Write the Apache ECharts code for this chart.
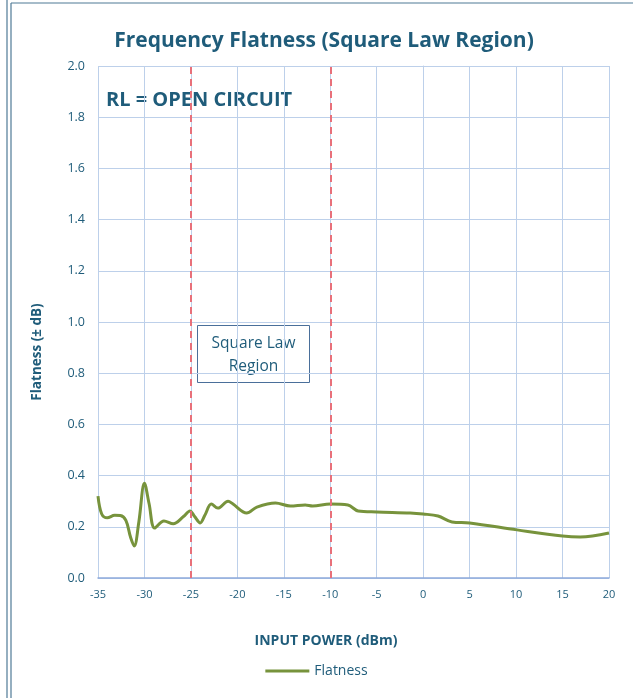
<!DOCTYPE html>
<html><head><meta charset="utf-8">
<script src="https://cdn.jsdelivr.net/npm/echarts@6/dist/echarts.min.js"></script>
<style>html,body{margin:0;padding:0;background:#fff}#c{width:633px;height:698px}</style>
</head><body><div id="c"></div>
<script>
const powerDbm = [-35,-34.6,-34,-33.2,-32.6,-32,-31.5,-31.1,-30.6,-30,-29.5,-28.9,-27.9,-26.9,-25.8,-25.1,-24.6,-24,-23.5,-22.8,-22.1,-21,-20.5,-19,-17.9,-15.9,-14.3,-12.7,-11.9,-10,-8.1,-7,-5,-1.4,0,1.6,3.1,5,10.1,15,16.9,20];
const flatness = [0.32,0.25,0.235,0.245,0.244,0.225,0.16,0.125,0.22,0.37,0.29,0.195,0.223,0.212,0.24,0.262,0.24,0.215,0.245,0.289,0.273,0.30,0.29,0.254,0.277,0.293,0.281,0.285,0.281,0.289,0.285,0.262,0.258,0.254,0.25,0.242,0.219,0.215,0.188,0.164,0.16,0.176];
const regionBounds = [-25, -10];
const xTicks = {min: -35, max: 20, interval: 5};
const yTicks = {min: 0, max: 2, interval: 0.2};

const txt = '#1F5C7A';
const font = '"Open Sans", "Noto Sans", sans-serif';
const chart = echarts.init(document.getElementById('c'));
chart.setOption({
  animation: false,
  title: {text: 'Frequency Flatness (Square Law Region)', left: 319, textAlign: 'center', top: 26,
    textStyle: {color: txt, fontSize: 21, fontWeight: 'bold', fontFamily: font}},
  legend: {top: 659, left: 'center', itemWidth: 44, itemHeight: 3, icon: 'rect', itemGap: 5,
    textStyle: {color: txt, fontSize: 14, fontFamily: font}, data: ['Flatness']},
  grid: {left: 98, right: 24, top: 66, bottom: 120},
  xAxis: {type: 'value', min: xTicks.min, max: xTicks.max, interval: xTicks.interval,
    axisLine: {lineStyle: {color: '#8EAADB', width: 1.5}}, axisTick: {show: false},
    axisLabel: {color: txt, fontSize: 11, fontFamily: font, margin: 11},
    splitLine: {show: true, lineStyle: {color: '#BDD0EA', width: 1}}},
  yAxis: {type: 'value', min: yTicks.min, max: yTicks.max, interval: yTicks.interval,
    axisLine: {show: true, lineStyle: {color: '#BDD0EA', width: 1}}, axisTick: {show: false},
    axisLabel: {color: txt, fontSize: 12.5, fontFamily: font, margin: 13, formatter: v => v.toFixed(1)},
    splitLine: {show: true, lineStyle: {color: '#BDD0EA', width: 1}}},
  series: [{
    name: 'Flatness', type: 'line', smooth: 0.35, symbol: 'none',
    data: powerDbm.map((x, i) => [x, flatness[i]]),
    lineStyle: {color: '#77933C', width: 3}, itemStyle: {color: '#77933C'},
    markLine: {silent: true, symbol: 'none', label: {show: false},
      lineStyle: {color: '#E8707A', type: [7, 5], width: 2},
      data: regionBounds.map(v => ({xAxis: v}))}
  }],
  graphic: [
    {type: 'line', shape: {x1: 7, y1: 0, x2: 7, y2: 698}, style: {stroke: '#4F7A96', lineWidth: 1.2}},
    {type: 'line', shape: {x1: 11, y1: 3, x2: 11, y2: 698}, style: {stroke: '#4F7A96', lineWidth: 1.2}},
    {type: 'line', shape: {x1: 11, y1: 3, x2: 633, y2: 3}, style: {stroke: '#4F7A96', lineWidth: 1.2}},
    {type: 'text', x: 106, y: 100, style: {text: 'RL = OPEN CIRCUIT', fill: txt, fontSize: 20, fontWeight: 'bold', fontFamily: font, verticalAlign: 'middle'}},
    {type: 'text', x: 326, y: 641, style: {text: 'INPUT POWER (dBm)', fill: txt, fontSize: 14, fontWeight: 'bold', fontFamily: font, align: 'center', verticalAlign: 'middle'}},
    {type: 'text', x: 37, y: 352, rotation: Math.PI / 2, style: {text: 'Flatness (± dB)', fill: txt, fontSize: 13.5, fontWeight: 'bold', fontFamily: font, align: 'center', verticalAlign: 'middle'}},
    {type: 'rect', shape: {x: 197.5, y: 325.5, width: 112, height: 57}, style: {fill: '#fff', stroke: '#4A6F9A', lineWidth: 1}},
    {type: 'text', x: 253.5, y: 355, style: {text: 'Square Law\nRegion', fill: txt, fontSize: 15.5, lineHeight: 23, fontFamily: font, align: 'center', verticalAlign: 'middle'}}
  ]
});
</script></body></html>
